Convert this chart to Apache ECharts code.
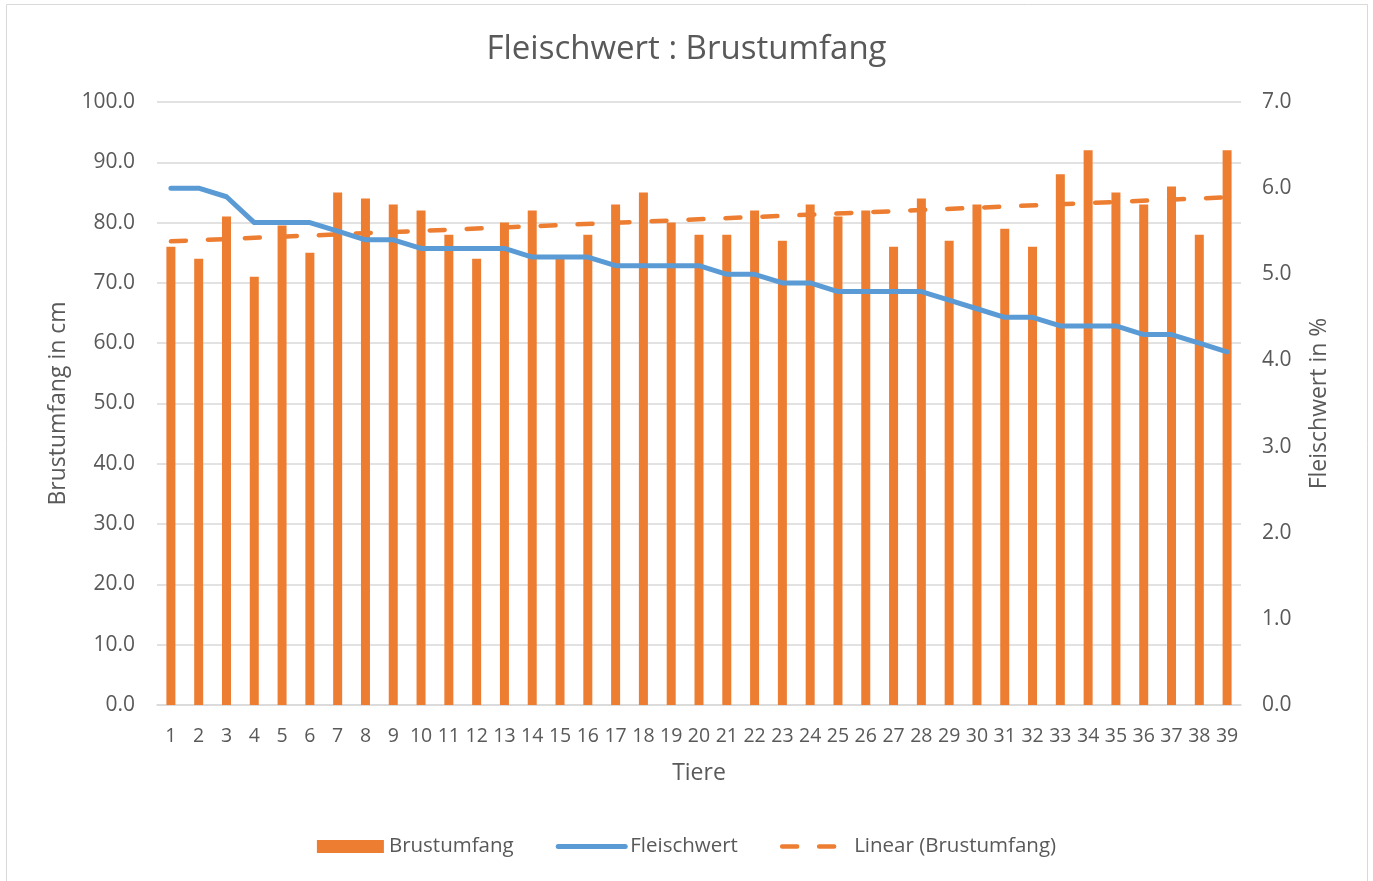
<!DOCTYPE html>
<html>
<head>
<meta charset="utf-8">
<script src="https://cdn.jsdelivr.net/npm/echarts@6/dist/echarts.min.js"></script>
<style>
  body { margin: 0; background: #fff; }
  #main { width: 1373px; height: 881px; }
</style>
</head>
<body>
<div id="main"></div>
<script>
// Tiere 1..39
var tiere = [];
for (var i = 1; i <= 39; i++) tiere.push(String(i));

// Brustumfang in cm (bars, left axis)
var brustumfang = [76, 74, 81, 71, 79.5, 75, 85, 84, 83, 82, 78, 74, 80, 82, 74, 78, 83, 85, 80, 78,
                   78, 82, 77, 83, 81, 82, 76, 84, 77, 83, 79, 76, 88, 92, 85, 83, 86, 78, 92];

// Fleischwert in % (line, right axis)
var fleischwert = [6.0, 6.0, 5.9, 5.6, 5.6, 5.6, 5.5, 5.4, 5.4, 5.3, 5.3, 5.3, 5.3, 5.2, 5.2, 5.2, 5.1, 5.1, 5.1, 5.1,
                   5.0, 5.0, 4.9, 4.9, 4.8, 4.8, 4.8, 4.8, 4.7, 4.6, 4.5, 4.5, 4.4, 4.4, 4.4, 4.3, 4.3, 4.2, 4.1];

// Linear (Brustumfang): end points [categoryIndex, value]
var trendPoints = [[0, 76.9], [38, 84.2]];

var txt = '#595959';
var grid = '#d9d9d9';
var font = 'Open Sans';

var option = {
    backgroundColor: '#fff',
    animation: false,
    textStyle: { fontFamily: font },
    title: {
        text: 'Fleischwert : Brustumfang',
        left: 'center',
        top: 28,
        textStyle: { fontFamily: font, fontSize: 33, fontWeight: 'normal', color: txt }
    },
    graphic: [{
        type: 'rect',
        shape: { x: 6.5, y: 4.5, width: 1361, height: 900 },
        style: { fill: 'none', stroke: grid, lineWidth: 1 }
    }],
    grid: { left: 157, right: 132, top: 102, bottom: 176 },
    legend: {
        bottom: 19,
        left: 'center',
        itemWidth: 67,
        itemHeight: 13,
        itemGap: 42,
        textStyle: { fontFamily: font, fontSize: 20.5, color: txt },
        data: [
            { name: 'Brustumfang', icon: 'rect' },
            { name: 'Fleischwert', itemStyle: { opacity: 0 }, lineStyle: { width: 5 } },
            { name: 'Linear (Brustumfang)', itemStyle: { opacity: 0 }, lineStyle: { width: 4.5 } }
        ]
    },
    xAxis: {
        type: 'category',
        data: tiere,
        name: 'Tiere',
        nameLocation: 'middle',
        nameGap: 57,
        nameTextStyle: { fontFamily: font, fontSize: 23, color: txt },
        axisLine: { lineStyle: { color: grid, width: 1.5 } },
        axisTick: { show: false },
        axisLabel: { interval: 0, fontSize: 19.5, color: txt, margin: 21 }
    },
    yAxis: [
        {
            type: 'value',
            min: 0, max: 100, interval: 10,
            name: 'Brustumfang in cm',
            nameLocation: 'middle',
            nameGap: 87,
            nameTextStyle: { fontFamily: font, fontSize: 23, color: txt },
            axisLabel: { fontSize: 21, color: txt, margin: 22, formatter: function (v) { return v.toFixed(1); } },
            splitLine: { lineStyle: { color: grid, width: 1.5 } },
            axisLine: { show: false },
            axisTick: { show: false }
        },
        {
            type: 'value',
            min: 0, max: 7, interval: 1,
            name: 'Fleischwert in %',
            nameLocation: 'middle',
            nameGap: 67,
            nameTextStyle: { fontFamily: font, fontSize: 23, color: txt },
            axisLabel: { fontSize: 21, color: txt, margin: 21, formatter: function (v) { return v.toFixed(1); } },
            splitLine: { show: false },
            axisLine: { show: false },
            axisTick: { show: false }
        }
    ],
    series: [
        {
            name: 'Brustumfang',
            type: 'bar',
            data: brustumfang,
            barWidth: 9,
            itemStyle: { color: '#ed7d31' }
        },
        {
            name: 'Linear (Brustumfang)',
            type: 'line',
            data: trendPoints,
            symbol: 'none',
            itemStyle: { color: '#ed7d31' },
            lineStyle: { color: '#ed7d31', width: 4.5, type: [15, 22], cap: 'round' },
            z: 3
        },
        {
            name: 'Fleischwert',
            type: 'line',
            yAxisIndex: 1,
            data: fleischwert,
            symbol: 'none',
            itemStyle: { color: '#5b9bd5' },
            lineStyle: { color: '#5b9bd5', width: 5, cap: 'round', join: 'round' },
            z: 4
        }
    ]
};

var chart = echarts.init(document.getElementById('main'));
chart.setOption(option);
</script>
</body>
</html>
